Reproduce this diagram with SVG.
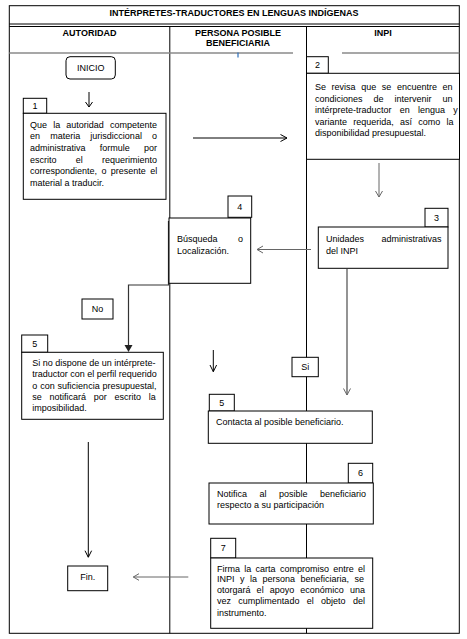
<svg xmlns="http://www.w3.org/2000/svg" width="467" height="639" viewBox="0 0 467 639">
<style>
text{font-family:"Liberation Sans",Arial,sans-serif;font-size:9px;fill:#000}
.b{font-weight:bold}
.c{text-anchor:middle}
.box{fill:#fff;stroke:#000;stroke-width:1}
.frame{fill:none;stroke:#000;stroke-width:1}
.hd{stroke:#8a8a8a;stroke-width:1.5;fill:none}
.ln{fill:none;stroke:#000;stroke-width:1}
.gl{fill:none;stroke:#666;stroke-width:1}
</style>
<rect width="467" height="639" fill="#fff"/>
<g id="frame">
<rect class="frame" x="9.3" y="5.7" width="450" height="627.6"/>
<line class="ln" x1="9.3" y1="24" x2="459.3" y2="24"/>
<line class="ln" x1="9.3" y1="26.5" x2="459.3" y2="26.5"/>
<line class="ln" x1="169.8" y1="26.5" x2="169.8" y2="633.3"/>
<line class="ln" x1="306.5" y1="26.5" x2="306.5" y2="633.3"/>
<line class="hd" x1="9.3" y1="53" x2="293" y2="53"/>
<line class="hd" x1="342" y1="53" x2="459.3" y2="53"/>
<line x1="238" y1="52.5" x2="238" y2="57.5" stroke="#2a6ebb" stroke-width="1.2"/>
<text class="b c" x="234" y="16.3">INTÉRPRETES-TRADUCTORES EN LENGUAS INDÍGENAS</text>
<text class="b c" x="89.5" y="35.6">AUTORIDAD</text>
<text class="b c" x="238" y="35.6">PERSONA POSIBLE</text>
<text class="b c" x="238" y="45.6">BENEFICIARIA</text>
<text class="b c" x="383" y="35.6">INPI</text>
</g>
<g id="connectors">
<polyline class="ln" points="89,92 89,107"/>
<polyline class="ln" points="85.5,102 89,107 92.5,102"/>
<line class="ln" x1="193" y1="138" x2="287" y2="138"/>
<polyline class="ln" points="280.5,134.5 287,138 280.5,141.5"/>
<line class="gl" x1="379" y1="163" x2="379" y2="197"/>
<polyline class="gl" points="375.5,191 379,197 382.5,191"/>
<line class="gl" x1="311" y1="249.5" x2="257" y2="249.5"/>
<polyline class="gl" points="263,246 257,249.5 263,253"/>
<polyline fill="none" stroke="#333" stroke-width="1.2" points="168.5,221 168.5,285 128.5,285 128.5,346"/>
<polygon fill="#222" points="124.5,345 132.5,345 128.5,352"/>
<line stroke="#666" stroke-width="1.4" x1="347" y1="269" x2="347" y2="395"/>
<polyline class="gl" points="343.5,388.5 347,395 350.5,388.5"/>
<line class="ln" x1="213.3" y1="350" x2="213.3" y2="371.7"/>
<polyline class="ln" points="210,365 213.3,371.7 216.6,365"/>
<line class="ln" x1="88.3" y1="442" x2="88.3" y2="557"/>
<polyline class="ln" points="85,550.7 88.3,557.3 91.6,550.7"/>
<line class="gl" x1="188.3" y1="577" x2="133.3" y2="577"/>
<polyline class="gl" points="139,573.7 133.3,577 139,580.3"/>
</g>
<g id="inicio">
<rect class="box" x="66" y="56.7" width="49.3" height="22.3" rx="4"/>
<text class="c" x="90.7" y="71">INICIO</text>
</g>
<g id="step1">
<rect class="box" x="23.3" y="98.3" width="23.4" height="15"/>
<text class="c" x="35" y="109.1">1</text>
<rect class="box" x="23.3" y="113.3" width="142.7" height="86"/>
<text x="30" y="127.6" word-spacing="3.65">Que la autoridad competente</text>
<text x="30" y="139.3" word-spacing="7.67">en materia jurisdiccional o</text>
<text x="30" y="151" word-spacing="11.75">administrativa formule por</text>
<text x="30" y="162.7" word-spacing="16.75">escrito el requerimiento</text>
<text x="30" y="174.4" word-spacing="1.87">correspondiente, o presente el</text>
<text x="30" y="186">material a traducir.</text>
</g>
<g id="step2">
<rect class="box" x="306.5" y="56.7" width="21.8" height="16.6"/>
<text class="c" x="317.4" y="68.3">2</text>
<rect class="box" x="306.5" y="73.3" width="153" height="86"/>
<text x="315" y="90.3" word-spacing="3.1">Se revisa que se encuentre en</text>
<text x="315" y="101.8" word-spacing="8.5">condiciones de intervenir un</text>
<text x="315" y="113.3" word-spacing="5.7">intérprete-traductor en lengua y</text>
<text x="315" y="124.8" word-spacing="3.75">variante requerida, así como la</text>
<text x="315" y="136.3">disponibilidad presupuestal.</text>
</g>
<g id="step3">
<rect class="box" x="425" y="208.3" width="23" height="18.7"/>
<text class="c" x="436.5" y="220.8">3</text>
<rect class="box" x="318.3" y="227" width="129.7" height="41.3"/>
<text x="326" y="241.5" word-spacing="15">Unidades administrativas</text>
<text x="326" y="254.3">del INPI</text>
</g>
<g id="step4">
<rect class="box" x="228" y="196" width="23.7" height="21.3"/>
<text class="c" x="239.8" y="210">4</text>
<rect class="box" x="169" y="218" width="81.7" height="65.3"/>
<text x="177" y="242.3" word-spacing="18">Búsqueda o</text>
<text x="177" y="254.3">Localización.</text>
</g>
<g id="no">
<rect class="box" x="82" y="299" width="31" height="20"/>
<text class="c" x="97.5" y="312.3">No</text>
</g>
<g id="si">
<rect class="box" x="292" y="357.3" width="26.3" height="19.4"/>
<text class="c" x="305.2" y="370.3">Si</text>
</g>
<g id="step5a">
<rect class="box" x="21.7" y="335" width="26" height="17.3"/>
<text class="c" x="34.7" y="346.8">5</text>
<rect class="box" x="21.7" y="352.3" width="141.6" height="67"/>
<text x="32.3" y="366">Si no dispone de un intérprete-</text>
<text x="32.3" y="377.2">traductor con el perfil requerido</text>
<text x="32.3" y="388.5" word-spacing="0.4">o con suficiencia presupuestal,</text>
<text x="32.3" y="399.8" word-spacing="5.25">se notificará por escrito la</text>
<text x="32.3" y="411">imposibilidad.</text>
</g>
<g id="step5b">
<rect class="box" x="209.3" y="394.3" width="25" height="16.7"/>
<text class="c" x="221.8" y="406">5</text>
<rect class="box" x="208.3" y="411" width="164" height="32.3"/>
<text x="216" y="425">Contacta al posible beneficiario.</text>
</g>
<g id="step6">
<rect class="box" x="348.3" y="463.3" width="24.4" height="19.7"/>
<text class="c" x="360.5" y="476.1">6</text>
<rect class="box" x="209" y="483" width="164.3" height="41"/>
<text x="217" y="496.6" word-spacing="10">Notifica al posible beneficiario</text>
<text x="217" y="507.6">respecto a su participación</text>
</g>
<g id="step7">
<rect class="box" x="210.7" y="538.3" width="25" height="19.7"/>
<text class="c" x="223.2" y="551.3">7</text>
<rect class="box" x="210.7" y="558" width="162" height="70.3"/>
<text x="217" y="571.6" word-spacing="1.8">Firma la carta compromiso entre el</text>
<text x="217" y="582.3" word-spacing="3">INPI y la persona beneficiaria, se</text>
<text x="217" y="593.3" word-spacing="3.6">otorgará el apoyo económico una</text>
<text x="217" y="604.3" word-spacing="4.85">vez cumplimentado el objeto del</text>
<text x="217" y="615.6">instrumento.</text>
</g>
<g id="fin">
<rect class="box" x="67.7" y="566" width="40" height="24.7"/>
<text class="c" x="87.7" y="580">Fin.</text>
</g>
</svg>
